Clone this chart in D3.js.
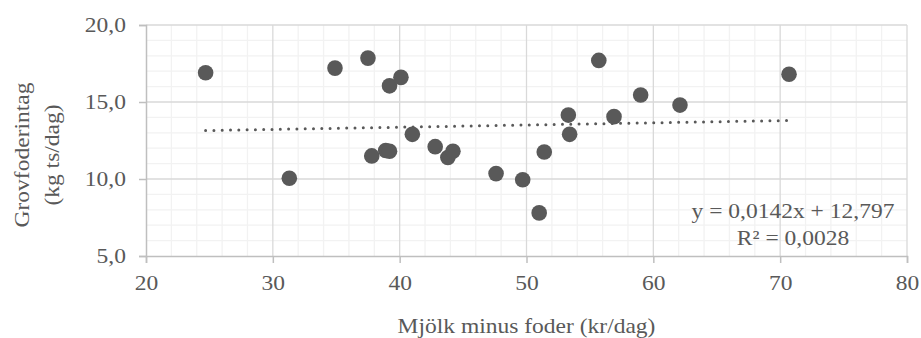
<!DOCTYPE html>
<html>
<head>
<meta charset="utf-8">
<script src="https://cdn.jsdelivr.net/npm/d3@7"></script>
<style>
    body { margin: 0; background: #fff; }
    text { font-family: 'Liberation Serif', 'Times New Roman', serif; fill: #595959; }
</style>
</head>
<body>
<svg></svg>
<script>
// milk minus feed (kr/dag) vs roughage intake (kg ts/dag)
const xValues = [24.7, 31.3, 34.9, 37.5, 39.2, 40.1, 37.8, 38.9, 39.2, 41.0,
    42.8, 43.8, 44.2, 47.6, 49.7, 51.0, 51.4, 53.3, 53.4, 55.7,
    56.9, 59.0, 62.1, 70.7];
const yValues = [16.9, 10.05, 17.2, 17.85, 16.05, 16.6, 11.5, 11.85, 11.8, 12.9,
    12.1, 11.4, 11.8, 10.35, 9.95, 7.8, 11.75, 14.15, 12.9, 17.7,
    14.05, 15.45, 14.8, 16.8];
const xTicks = [20, 30, 40, 50, 60, 70, 80],
    yTicks = [5, 10, 15, 20];
const slope = 0.0142, intercept = 12.797;
const eqLines = ['y = 0,0142x + 12,797', 'R² = 0,0028'];
const xTitle = 'Mjölk minus foder (kr/dag)',
    yTitle = ['Grovfoderintag', '(kg ts/dag)'];

var margin = {top: 25, right: 14, bottom: 82, left: 146},
    width = 921 - margin.left - margin.right,
    height = 338 - margin.top - margin.bottom,
    stretch = 1.12;   // the reference type is a bit wider than Liberation Serif

var svg = d3.select('svg')
    .attr('width', 921)
    .attr('height', 338);

var chart = svg.append('g')
    .attr('transform', 'translate(' + margin.left + ',' + margin.top + ')');

var x = d3.scaleLinear().domain([20, 80]).range([0, width]);
var y = d3.scaleLinear().domain([5, 20]).range([height, 0]);

// minor grid
chart.append('g').selectAll('line')
    .data(d3.range(22, 80, 2).filter(function(v) { return v % 10 !== 0; }))
    .enter().append('line')
    .attr('x1', function(d) { return x(d); }).attr('x2', function(d) { return x(d); })
    .attr('y1', 0).attr('y2', height)
    .style('stroke', '#f2f2f2').style('stroke-width', 1.3);

chart.append('g').selectAll('line')
    .data(d3.range(6, 20, 1).filter(function(v) { return v % 5 !== 0; }))
    .enter().append('line')
    .attr('y1', function(d) { return y(d); }).attr('y2', function(d) { return y(d); })
    .attr('x1', 0).attr('x2', width)
    .style('stroke', '#f2f2f2').style('stroke-width', 1.3);

// major grid
chart.append('g').selectAll('line')
    .data(xTicks.slice(1))
    .enter().append('line')
    .attr('x1', function(d) { return x(d); }).attr('x2', function(d) { return x(d); })
    .attr('y1', 0).attr('y2', height)
    .style('stroke', '#d9d9d9').style('stroke-width', 1.3);

chart.append('g').selectAll('line')
    .data(yTicks.slice(1))
    .enter().append('line')
    .attr('y1', function(d) { return y(d); }).attr('y2', function(d) { return y(d); })
    .attr('x1', 0).attr('x2', width)
    .style('stroke', '#d9d9d9').style('stroke-width', 1.3);

var fmt = function(d) { return d3.format('.1f')(d).replace('.', ','); };

var xAxis = chart.append('g')
    .attr('transform', 'translate(0,' + height + ')')
    .call(d3.axisBottom(x).tickValues(xTicks).tickSize(7).tickPadding(12));

var yAxis = chart.append('g')
    .call(d3.axisLeft(y).tickValues(yTicks).tickSize(7).tickPadding(13).tickFormat(fmt));

[xAxis, yAxis].forEach(function(a) {
    a.select('.domain').style('stroke', '#bfbfbf').style('stroke-width', 1.5);
    a.selectAll('.tick line').style('stroke', '#bfbfbf').style('stroke-width', 1.5);
    a.selectAll('.tick text')
        .style('font-family', "'Liberation Serif', serif")
        .style('font-size', '21px')
        .style('fill', '#595959')
        .each(function() {
            var t = d3.select(this), tx = +t.attr('x') || 0;
            t.attr('x', 0)
                .attr('transform', 'translate(' + tx + ',0) scale(' + stretch + ',1)');
        });
});

// trendline
var xMin = d3.min(xValues), xMax = d3.max(xValues);
chart.append('line')
    .attr('x1', x(xMin)).attr('y1', y(slope * xMin + intercept))
    .attr('x2', x(xMax)).attr('y2', y(slope * xMax + intercept))
    .style('stroke', '#595959')
    .style('stroke-width', 3)
    .style('stroke-linecap', 'round')
    .style('stroke-dasharray', '0 8.3');

// points
chart.append('g').selectAll('circle')
    .data(xValues)
    .enter().append('circle')
    .attr('cx', function(d) { return x(d); })
    .attr('cy', function(d, i) { return y(yValues[i]); })
    .attr('r', 7.8)
    .style('fill', '#595959');

// equation label
chart.append('text')
    .attr('transform', 'translate(647,193) scale(' + stretch + ',1)')
    .attr('text-anchor', 'middle')
    .style('font-size', '21px')
    .selectAll('tspan')
    .data(eqLines)
    .enter().append('tspan')
    .attr('x', 0)
    .attr('dy', function(d, i) { return i === 0 ? 0 : 27; })
    .text(function(d) { return d; });

// axis titles
svg.append('text')
    .attr('transform', 'translate(' + (margin.left + width / 2) + ',333) scale(' + stretch + ',1)')
    .attr('text-anchor', 'middle')
    .style('font-size', '21px')
    .text(xTitle);

svg.append('text')
    .attr('transform', 'translate(29,155) rotate(-90) scale(' + stretch + ',1)')
    .attr('text-anchor', 'middle')
    .style('font-size', '21px')
    .selectAll('tspan')
    .data(yTitle)
    .enter().append('tspan')
    .attr('x', 0)
    .attr('dy', function(d, i) { return i === 0 ? 0 : 30; })
    .text(function(d) { return d; });
</script>
</body>
</html>
